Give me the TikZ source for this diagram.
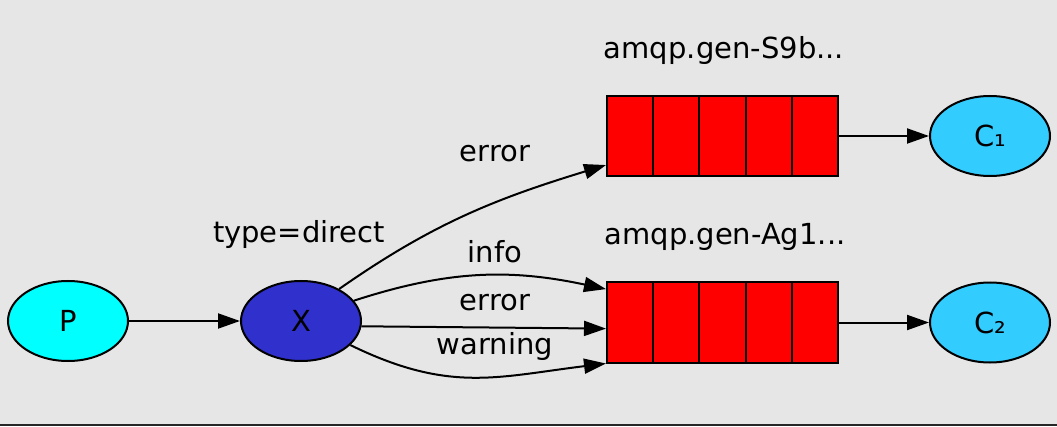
\documentclass[tikz,border=0pt]{standalone}
\usepackage{fontspec}
\setmainfont{DejaVu Sans}
\usetikzlibrary{arrows.meta,calc,shapes.geometric}
\definecolor{bg}{HTML}{E6E6E6}
\definecolor{xblue}{HTML}{3030CC}
\definecolor{cblue}{HTML}{33CCFF}
\definecolor{pcyan}{HTML}{00FFFF}
\begin{document}
\begin{tikzpicture}[x=1pt,y=1pt,
  every node/.style={font=\fontsize{29}{34}\selectfont},
  oval/.style={ellipse,draw=black,line width=2pt,minimum width=120pt,minimum height=80pt,inner sep=0pt},
  queue/.style={rectangle,draw=black,line width=2pt,fill=red,minimum width=231pt,minimum height=80pt,inner sep=0pt},
  lbl/.style={anchor=base,inner sep=0pt},
  arr/.style={draw=black,line width=2pt,-{Triangle[length=22pt,width=15pt]}}]
\useasboundingbox (0,0) rectangle (1057,426);
\fill[bg] (0,0) rectangle (1057,426);
\fill[black!85] (0,0) rectangle (1057,2.5);

\node[oval,fill=pcyan] (P) at (68,105) {P};
\node[oval,fill=xblue] (X) at (301,105) {X};
\node[queue] (q1) at (722.5,290) {};
\node[queue] (q2) at (722.5,103.5) {};
\node[oval,fill=cblue] (c1) at (990,290) {C₁};
\node[oval,fill=cblue] (c2) at (990,103.5) {C₂};

\foreach \q in {q1,q2}{
  \foreach \k in {1,...,4}{
    \draw[line width=2pt] ($(\q.north west)!\k/5!(\q.north east)$) -- ($(\q.south west)!\k/5!(\q.south east)$);
  }
}

\node[lbl] (n1) at (724,367) {amqp.gen-S9b...};
\node[lbl] (n2) at (725,181) {amqp.gen-Ag1...};
\node[lbl] (tp) at (299,183) {type=direct};
\node[lbl] (le1) at (495,264) {error};
\node[lbl] (li) at (495,164) {info};
\node[lbl] (le2) at (495,116) {error};
\node[lbl] (lw) at (495,72) {warning};

\draw[arr] (P) -- (X);
\draw[arr] (X.40) to[out=35,in=197] (q1.194);
\draw[arr] (X.21) to[out=18,in=168] (q2.164);
\draw[arr] (X.-5) -- (q2.183);
\draw[arr] (X.-26) to[out=-26,in=187,looseness=1.1] (q2.south west);
\draw[arr] (q1) -- (c1);
\draw[arr] (q2) -- (c2);
\end{tikzpicture}
\end{document}
